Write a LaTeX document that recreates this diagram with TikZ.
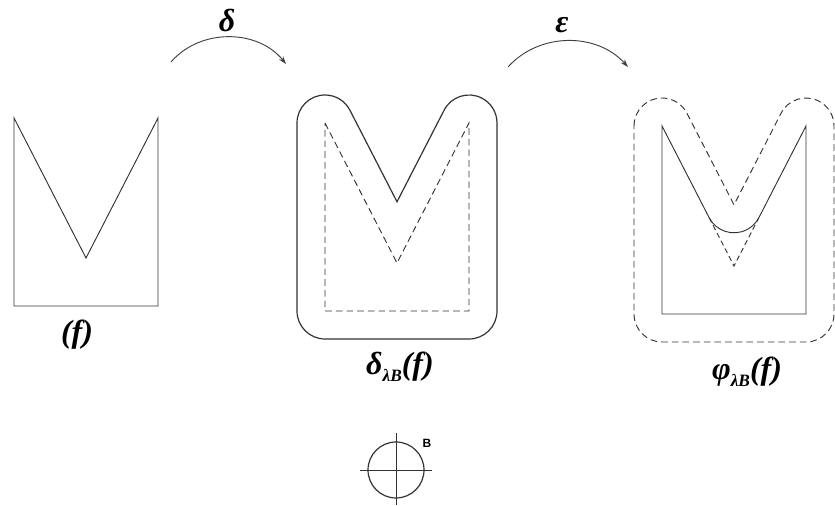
\documentclass[tikz,border=0pt]{standalone}
\usepackage{fontspec}
\setmainfont{Liberation Serif}
\newfontfamily\lblserif{Liberation Serif}[UprightFont=* Bold Italic]
\newfontfamily\lblsans{Liberation Sans}[UprightFont=* Bold]
\usetikzlibrary{arrows.meta,calc}
\tikzset{
  ln/.style={draw=black!80, line width=0.7pt, line join=miter},
  dsh/.style={draw=black!80, line width=0.7pt, dash pattern=on 5pt off 3pt},
  arcarrow/.style={draw=black!75, line width=0.7pt, -{Stealth[length=6pt,width=4pt]}},
  lbl/.style={inner sep=0pt, font=\lblserif\fontsize{24}{26}\selectfont},
}
\newcommand{\outerpath}{(-28,0) arc[start angle=180,end angle=27.22,radius=28] -- (72,-78.8) -- (119.1,12.8) arc[start angle=152.78,end angle=0,radius=28] -- (172,-188) arc[start angle=0,end angle=-90,radius=28] -- (0,-216) arc[start angle=-90,end angle=-180,radius=28] -- cycle}
\newcommand{\innerpath}{(0,0) -- (72,-140) -- (144,0) -- (144,-188) -- (0,-188) -- cycle}
\newcommand{\sub}[1]{\raisebox{-0.5ex}{\fontsize{13}{13}\selectfont #1}}
\begin{document}
\begin{tikzpicture}[x=0.75pt,y=0.75pt]
\useasboundingbox (0,0) rectangle (835,506);
\clip (0,0) rectangle (835,506);
% shape 1: f
\begin{scope}[shift={(14,388)}]
  \draw[ln] \innerpath;
\end{scope}
% shape 2: dilation
\begin{scope}[shift={(325,383)}]
  \draw[ln, line width=0.9pt] \outerpath;
  \draw[dsh] \innerpath;
\end{scope}
% shape 3: closing
\begin{scope}[shift={(662,380)}]
  \draw[dsh] \outerpath;
  \draw[ln] (0,0) -- (47.1,-91.6) arc[start angle=207.22,end angle=332.78,radius=28] -- (144,0) -- (144,-188) -- (0,-188) -- cycle;
  \draw[dsh, dash pattern=on 4pt off 2.5pt] (47.1,-91.6) -- (72,-140) -- (96.9,-91.6);
\end{scope}
% arrows
\coordinate (d1) at (171,444);
\coordinate (d2) at (286,442);
\coordinate (e1) at (508,439);
\coordinate (e2) at (628,439);
\draw[arcarrow] (d1) to[bend left=50] (d2);
\draw[arcarrow] (e1) to[bend left=48] (e2);
\node[lbl] (ld) at (227,486) {δ};
\node[lbl] (le) at (562,481) {ε};
% labels
\node[lbl] (lf) at (77,171) {(f)};
\node[lbl] (ldil) at (400,139) {δ\sub{λB}(f)};
\node[lbl] (lclo) at (747,134) {φ\sub{λB}(f)};
% structuring element
\coordinate (bc) at (396,36);
\draw[ln, line width=0.9pt] (bc) circle[radius=28];
\draw[ln] (360,36) -- (432,36);
\draw[ln] (396,73) -- (396,1);
\node[inner sep=0pt, font=\lblsans\fontsize{9}{9}\selectfont] (lb) at (427,63) {B};
\end{tikzpicture}
\end{document}
